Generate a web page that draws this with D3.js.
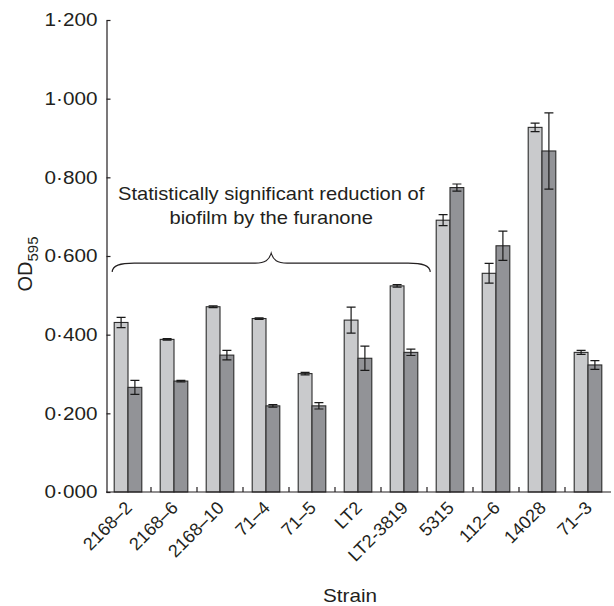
<!DOCTYPE html>
<html>
<head>
<meta charset="utf-8">
<script src="https://cdn.jsdelivr.net/npm/d3@7"></script>
<style>
  body { margin: 0; background: #fff; }
  text { font-family: "Liberation Sans", Arial, Helvetica, sans-serif; fill: #231f20; }
</style>
</head>
<body>
<svg width="614" height="606"></svg>
<script>
// values (OD595, control vs furanone)
var strains = ["2168–2", "2168–6", "2168–10", "71–4", "71–5", "LT2", "LT2-3819", "5315", "112–6", "14028", "71–3"];
var control = [0.431, 0.388, 0.471, 0.441, 0.301, 0.437, 0.524, 0.691, 0.556, 0.927, 0.355];
var controlErr = [0.013, 0.002, 0.002, 0.002, 0.003, 0.033, 0.003, 0.014, 0.025, 0.011, 0.005];
var furanone = [0.266, 0.282, 0.348, 0.219, 0.219, 0.340, 0.355, 0.774, 0.626, 0.867, 0.323];
var furanoneErr = [0.018, 0.002, 0.012, 0.003, 0.008, 0.031, 0.008, 0.009, 0.037, 0.097, 0.011];
var yTicks = [0, 0.2, 0.4, 0.6, 0.8, 1.0, 1.2];
var note = ["Statistically significant reduction of", "biofilm by the furanone"];
var noteFrom = 0, noteTo = 6;

var svg = d3.select("svg");
var stretch = 1.15; // the printed type is a little wider than Arial

var x = d3.scaleBand()
  .domain(strains)
  .range([105, 611])
  .paddingInner(0.4)
  .paddingOuter(0.2);
var bw = x.bandwidth() / 2;

var y = d3.scaleLinear()
  .domain([0, 1.2])
  .range([492, 20]);

var rows = strains.map(function(s, i) {
  return { s: s, c: control[i], ce: controlErr[i], f: furanone[i], fe: furanoneErr[i] };
});

// y axis, ticks pointing in
var yAxis = svg.append("g")
  .attr("transform", "translate(106.5,0)")
  .call(d3.axisLeft(y).tickValues(yTicks).tickSizeInner(-4).tickSizeOuter(0).tickPadding(9)
    .tickFormat(function(d) { return d3.format(".3f")(d).replace(".", "·"); }));
yAxis.select(".domain").attr("stroke", "#231f20").attr("stroke-width", 1.2);
yAxis.selectAll(".tick line").attr("stroke", "#231f20").attr("stroke-width", 1.2);
yAxis.selectAll(".tick text")
  .attr("x", null)
  .attr("transform", "translate(-9,0) scale(" + stretch + ",1)")
  .style("font-size", "18px")
  .style("font-family", null)
  .attr("fill", "#231f20");

// bars
var groups = svg.selectAll(".grp")
  .data(rows)
  .enter()
  .append("g")
  .attr("class", "grp");

groups.append("rect")
  .attr("x", function(d) { return x(d.s); })
  .attr("y", function(d) { return y(d.c); })
  .attr("width", bw)
  .attr("height", function(d) { return y(0) - y(d.c); })
  .attr("fill", "#c9cacc")
  .attr("stroke", "#2b2b2b")
  .attr("stroke-width", 1.1);

groups.append("rect")
  .attr("x", function(d) { return x(d.s) + bw; })
  .attr("y", function(d) { return y(d.f); })
  .attr("width", bw)
  .attr("height", function(d) { return y(0) - y(d.f); })
  .attr("fill", "#929397")
  .attr("stroke", "#2b2b2b")
  .attr("stroke-width", 1.1);

// error bars
function errBar(g, cx, v, e) {
  var cap = 4.5;
  g.append("path")
    .attr("d", "M" + cx + "," + y(v + e) + "V" + y(v - e) +
      "M" + (cx - cap) + "," + y(v + e) + "H" + (cx + cap) +
      "M" + (cx - cap) + "," + y(v - e) + "H" + (cx + cap))
    .attr("fill", "none")
    .attr("stroke", "#1a1a1a")
    .attr("stroke-width", 1.2);
}
groups.each(function(d) {
  var g = d3.select(this);
  errBar(g, x(d.s) + bw / 2, d.c, d.ce);
  errBar(g, x(d.s) + bw * 1.5, d.f, d.fe);
});

// x axis line with small upward ticks between groups
var gap = (x.step() - x.bandwidth()) / 2;
svg.append("line")
  .attr("x1", 106).attr("x2", 611)
  .attr("y1", y(0)).attr("y2", y(0))
  .attr("stroke", "#231f20").attr("stroke-width", 1.2);
svg.selectAll(".xtick")
  .data(strains.slice(0, strains.length - 1))
  .enter()
  .append("line")
  .attr("x1", function(d) { return x(d) + x.bandwidth() + gap; })
  .attr("x2", function(d) { return x(d) + x.bandwidth() + gap; })
  .attr("y1", y(0))
  .attr("y2", y(0) - 5)
  .attr("stroke", "#231f20").attr("stroke-width", 1.2);

svg.selectAll(".xlab")
  .data(strains)
  .enter()
  .append("text")
  .attr("text-anchor", "end")
  .attr("transform", function(d) {
    return "translate(" + (x(d) + x.bandwidth() / 2 + 5) + ",509) rotate(-45)";
  })
  .style("font-size", "18px")
  .text(function(d) { return d; });

// axis titles
svg.append("text")
  .attr("text-anchor", "middle")
  .attr("transform", "translate(350,602) scale(" + stretch + ",1)")
  .style("font-size", "18px")
  .text("Strain");

var yt = svg.append("text")
  .attr("text-anchor", "middle")
  .attr("transform", "translate(32,264) rotate(-90)")
  .style("font-size", "20px");
yt.append("tspan").text("OD");
yt.append("tspan").attr("dy", 6).style("font-size", "15px").text("595");

// brace + note
var x0 = x(strains[noteFrom]) - 2;
var x1 = x(strains[noteTo + 1]) - 6;
var xm = (x0 + x1) / 2;
var yb = y(0.582);
svg.append("path")
  .attr("d",
    "M" + x0 + "," + (yb + 9) +
    "C" + x0 + "," + (yb + 2) + " " + (x0 + 8) + "," + yb + " " + (x0 + 22) + "," + yb +
    "L" + (xm - 16) + "," + yb +
    "C" + (xm - 6) + "," + yb + " " + (xm - 2) + "," + (yb - 3) + " " + xm + "," + (yb - 10) +
    "C" + (xm + 2) + "," + (yb - 3) + " " + (xm + 6) + "," + yb + " " + (xm + 16) + "," + yb +
    "L" + (x1 - 22) + "," + yb +
    "C" + (x1 - 8) + "," + yb + " " + x1 + "," + (yb + 2) + " " + x1 + "," + (yb + 9))
  .attr("fill", "none")
  .attr("stroke", "#231f20")
  .attr("stroke-width", 1.1);

svg.selectAll(".note")
  .data(note)
  .enter()
  .append("text")
  .attr("text-anchor", "middle")
  .attr("transform", function(d, i) {
    return "translate(" + xm + "," + (y(0.742) + i * 24) + ") scale(" + stretch + ",1)";
  })
  .style("font-size", "17.5px")
  .text(function(d) { return d; });
</script>
</body>
</html>
